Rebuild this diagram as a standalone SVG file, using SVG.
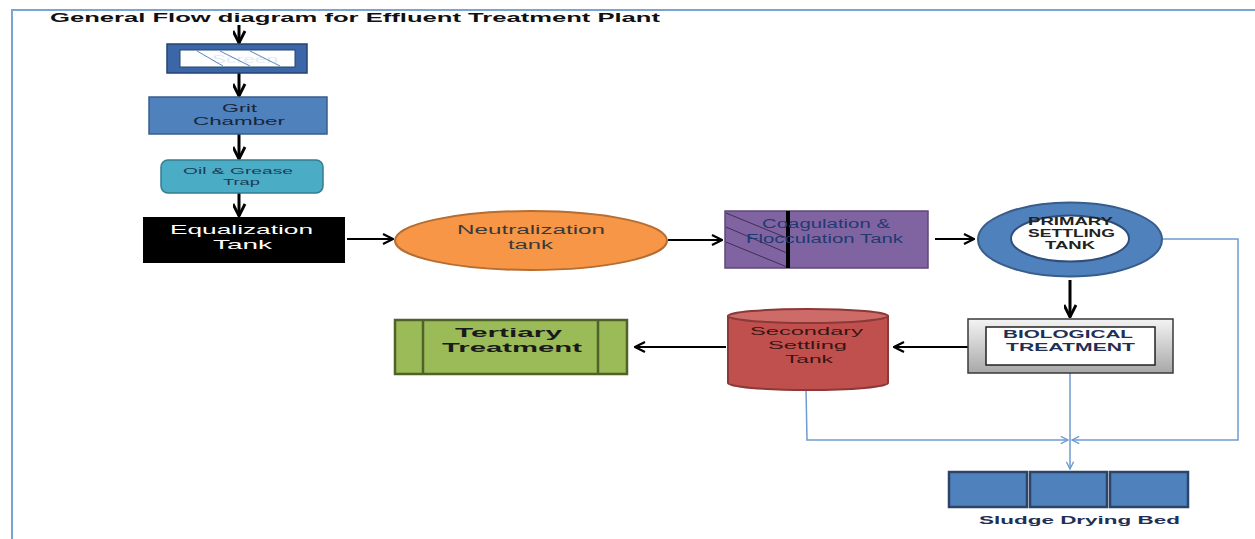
<svg xmlns="http://www.w3.org/2000/svg" width="1255" height="539" viewBox="0 0 1255 539">
<defs>
<style>
.t{font-family:"Liberation Sans",Arial,sans-serif;}
.b{font-weight:bold;}
.blk{stroke:#000;fill:none;}
.blue{stroke:#6E9BD1;stroke-width:1.5;fill:none;}
</style>
<marker id="ah" viewBox="0 0 12 12" refX="11" refY="6" markerWidth="12" markerHeight="12" markerUnits="userSpaceOnUse" orient="auto">
<path d="M1,1 L11,6 L1,11" fill="none" stroke="#000" stroke-width="2.2"/>
</marker>
<marker id="ahv" viewBox="0 0 14 12" refX="13" refY="7" markerWidth="14" markerHeight="14" markerUnits="userSpaceOnUse" orient="auto">
<path d="M1,1 L13,7 L1,13" fill="none" stroke="#000" stroke-width="2.8"/>
</marker>
<marker id="bh" viewBox="0 0 10 10" refX="9" refY="5" markerWidth="9" markerHeight="9" markerUnits="userSpaceOnUse" orient="auto">
<path d="M1,1 L9,5 L1,9" fill="none" stroke="#6E9BD1" stroke-width="1.5"/>
</marker>
<linearGradient id="grey" x1="0" y1="0" x2="0" y2="1">
<stop offset="0" stop-color="#f4f4f4"/>
<stop offset="1" stop-color="#a8a8a8"/>
</linearGradient>
</defs>
<rect width="1255" height="539" fill="#fff"/>
<g id="frame">
<path d="M1255,10 L12,10 L12,539" fill="none" stroke="#7AA3D6" stroke-width="2"/>
</g>
<text id="title" class="t b" x="50" y="22" font-size="13" fill="#111" textLength="610" lengthAdjust="spacingAndGlyphs">General Flow diagram for Effluent Treatment Plant</text>

<g id="connectors">
<line class="blk" x1="239" y1="25" x2="239" y2="43" stroke-width="3" marker-end="url(#ahv)"/>
<line class="blk" x1="239" y1="73" x2="239" y2="96" stroke-width="3" marker-end="url(#ahv)"/>
<line class="blk" x1="239" y1="134" x2="239" y2="159" stroke-width="3" marker-end="url(#ahv)"/>
<line class="blk" x1="239" y1="193" x2="239" y2="216" stroke-width="3" marker-end="url(#ahv)"/>
<line class="blk" x1="347" y1="239" x2="393" y2="239" stroke-width="2" marker-end="url(#ah)"/>
<line class="blk" x1="668" y1="240" x2="722" y2="240" stroke-width="2" marker-end="url(#ah)"/>
<line class="blk" x1="935" y1="239" x2="974" y2="239" stroke-width="2" marker-end="url(#ah)"/>
<line class="blk" x1="1070" y1="280" x2="1070" y2="317" stroke-width="3" marker-end="url(#ahv)"/>
<line class="blk" x1="968" y1="347" x2="894" y2="347" stroke-width="2" marker-end="url(#ah)"/>
<line class="blk" x1="726" y1="347" x2="635" y2="347" stroke-width="2" marker-end="url(#ah)"/>
<path class="blue" d="M1163,239 L1238,239 L1238,440 L1072,440" marker-end="url(#bh)"/>
<path class="blue" d="M806,388 L807,440 L1068,440" marker-end="url(#bh)"/>
<path class="blue" d="M1070,373 L1070,469" marker-end="url(#bh)"/>
</g>

<g id="screen">
<rect x="167" y="44" width="140" height="29" fill="#3B67A8" stroke="#24446F" stroke-width="1.5"/>
<rect x="180" y="50" width="115" height="17" fill="#fff" stroke="#24446F" stroke-width="1"/>
<text class="t" x="212" y="63" font-size="11" fill="#E4EAF3" textLength="66" lengthAdjust="spacingAndGlyphs">Screen</text>
<g stroke="#5A86C4" stroke-width="1">
<line x1="197" y1="51" x2="223" y2="66"/>
<line x1="220" y1="51" x2="250" y2="66"/>
<line x1="250" y1="51" x2="280" y2="66"/>
</g>
</g>

<g id="grit">
<rect x="149" y="97" width="178" height="37" fill="#4F81BD" stroke="#385D8A" stroke-width="1.5"/>
<text class="t" x="222" y="112" font-size="11" fill="#17263A" textLength="35" lengthAdjust="spacingAndGlyphs">Grit</text>
<text class="t" x="193" y="125" font-size="11" fill="#17263A" textLength="92" lengthAdjust="spacingAndGlyphs">Chamber</text>
</g>

<g id="oil">
<rect x="161" y="160" width="162" height="33" rx="7" fill="#4BACC6" stroke="#357D91" stroke-width="1.5"/>
<text class="t" x="183" y="174" font-size="9" fill="#1F3A55" textLength="110" lengthAdjust="spacingAndGlyphs">Oil &amp; Grease</text>
<text class="t" x="223" y="185" font-size="9" fill="#1F3A55" textLength="37" lengthAdjust="spacingAndGlyphs">Trap</text>
</g>

<g id="equalization">
<rect x="143" y="217" width="202" height="46" fill="#000"/>
<text class="t" x="170" y="234" font-size="13" fill="#fff" textLength="143" lengthAdjust="spacingAndGlyphs">Equalization</text>
<text class="t" x="213" y="249" font-size="13" fill="#fff" textLength="59" lengthAdjust="spacingAndGlyphs">Tank</text>
</g>

<g id="neutralization">
<ellipse cx="531" cy="240.5" rx="136" ry="29.5" fill="#F79646" stroke="#B66D31" stroke-width="2"/>
<text class="t" x="457" y="234" font-size="12" fill="#3A3A3A" textLength="148" lengthAdjust="spacingAndGlyphs">Neutralization</text>
<text class="t" x="508" y="249" font-size="12" fill="#3A3A3A" textLength="45" lengthAdjust="spacingAndGlyphs">tank</text>
</g>

<g id="coagulation">
<rect x="725" y="211" width="203" height="57" fill="#8064A2" stroke="#5C4776" stroke-width="1.5"/>
<g stroke="#3E2F52" stroke-width="1">
<line x1="726" y1="213" x2="787" y2="238"/>
<line x1="726" y1="227" x2="787" y2="253"/>
<line x1="726" y1="242" x2="787" y2="267"/>
</g>
<line x1="788" y1="211" x2="788" y2="268" stroke="#000" stroke-width="4"/>
<text class="t" x="762" y="228" font-size="12" fill="#1F3A70" textLength="128" lengthAdjust="spacingAndGlyphs">Coagulation &amp;</text>
<text class="t" x="746" y="243" font-size="12" fill="#1F3A70" textLength="157" lengthAdjust="spacingAndGlyphs">Flocculation Tank</text>
</g>

<g id="primary">
<ellipse cx="1070" cy="239.5" rx="92" ry="37" fill="#4F81BD" stroke="#385D8A" stroke-width="2"/>
<ellipse cx="1070" cy="238.5" rx="59" ry="23" fill="#fff" stroke="#2F4F7A" stroke-width="2"/>
<text class="t b" x="1028" y="225" font-size="10" fill="#222" textLength="85" lengthAdjust="spacingAndGlyphs">PRIMARY</text>
<text class="t b" x="1028" y="237" font-size="10" fill="#222" textLength="87" lengthAdjust="spacingAndGlyphs">SETTLING</text>
<text class="t b" x="1045" y="249" font-size="10" fill="#222" textLength="50" lengthAdjust="spacingAndGlyphs">TANK</text>
</g>

<g id="biological">
<rect x="968" y="319" width="205" height="54" fill="url(#grey)" stroke="#3A3A3A" stroke-width="1.5"/>
<rect x="986" y="327" width="169" height="38" fill="#fff" stroke="#222" stroke-width="1.5"/>
<text class="t b" x="1003" y="338" font-size="11" fill="#1F2F55" textLength="130" lengthAdjust="spacingAndGlyphs">BIOLOGICAL</text>
<text class="t b" x="1006" y="351" font-size="11" fill="#1F2F55" textLength="129" lengthAdjust="spacingAndGlyphs">TREATMENT</text>
</g>

<g id="secondary">
<path d="M728,316 L728,383 A80,7 0 0 0 888,383 L888,316 Z" fill="#C0504D" stroke="#8C3836" stroke-width="2"/>
<ellipse cx="808" cy="316" rx="80" ry="7" fill="#CD6B68" stroke="#8C3836" stroke-width="2"/>
<text class="t" x="750" y="335" font-size="11" fill="#3A1414" textLength="113" lengthAdjust="spacingAndGlyphs">Secondary</text>
<text class="t" x="768" y="349" font-size="11" fill="#3A1414" textLength="79" lengthAdjust="spacingAndGlyphs">Settling</text>
<text class="t" x="785" y="363" font-size="11" fill="#3A1414" textLength="48" lengthAdjust="spacingAndGlyphs">Tank</text>
</g>

<g id="tertiary">
<rect x="395" y="320" width="232" height="54" fill="#9BBB59" stroke="#4F6228" stroke-width="2.5"/>
<line x1="423" y1="320" x2="423" y2="374" stroke="#4F6228" stroke-width="2.5"/>
<line x1="598" y1="320" x2="598" y2="374" stroke="#4F6228" stroke-width="2.5"/>
<text class="t b" x="455" y="337" font-size="12" fill="#1A1A1A" textLength="107" lengthAdjust="spacingAndGlyphs">Tertiary</text>
<text class="t b" x="442" y="352" font-size="12" fill="#1A1A1A" textLength="140" lengthAdjust="spacingAndGlyphs">Treatment</text>
</g>

<g id="sludge">
<rect x="949" y="472" width="78" height="35" fill="#4F81BD" stroke="#2B4468" stroke-width="2.5"/>
<rect x="1030" y="472" width="77" height="35" fill="#4F81BD" stroke="#2B4468" stroke-width="2.5"/>
<rect x="1110" y="472" width="78" height="35" fill="#4F81BD" stroke="#2B4468" stroke-width="2.5"/>
<text class="t b" x="979" y="524" font-size="11" fill="#1F2F55" textLength="201" lengthAdjust="spacingAndGlyphs">Sludge Drying Bed</text>
</g>
</svg>
